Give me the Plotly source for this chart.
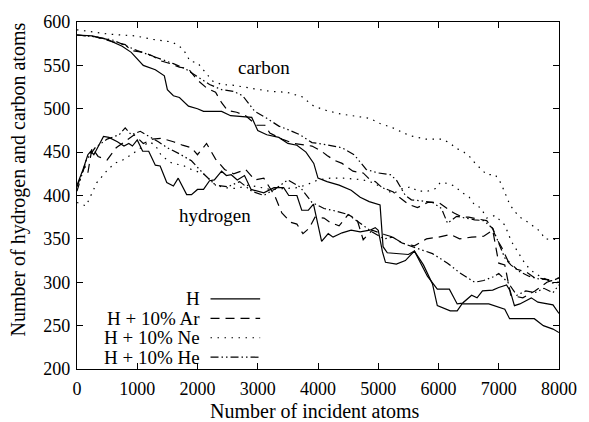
import plotly.graph_objects as go

# ---------------- data ----------------
x_ticks = [0, 1000, 2000, 3000, 4000, 5000, 6000, 7000, 8000]
y_ticks = [200, 250, 300, 350, 400, 450, 500, 550, 600]

legend_labels = ["H", "H + 10% Ar", "H + 10% Ne", "H + 10% He"]

# carbon, pure H (solid)
c_h_x = [0, 250, 500, 750, 900, 1000, 1100, 1300, 1450, 1500, 1600, 1700, 1850, 2000, 2100, 2400, 2550, 2900,
         3000, 3150, 3350, 3500, 3650, 3800, 3930, 4000, 4150, 4350, 4550, 4700, 4850, 5030, 5080, 5150, 5300,
         5500, 5600, 5750, 5900, 5980, 6195, 6310, 6390, 6835, 7100, 7180, 7590, 7740, 7900, 8000]
c_h_y = [585, 584, 580, 572, 565, 558, 550, 545, 538, 522, 515, 513, 503, 500, 497, 497, 492, 490,
         475, 470, 467, 460, 458, 450, 437, 420, 416, 412, 406, 398, 393, 389, 341, 334, 333,
         332, 336, 320, 298, 273, 267, 267, 275, 275, 269, 258, 258, 250, 246, 242]

# carbon, H + 10% Ar (dashed)
c_ar_x = [0, 300, 600, 800, 900, 1100, 1250, 1400, 1550, 1700, 1850, 2000, 2150, 2300, 2400, 2500, 2650, 2800,
          2980, 3120, 3200, 3400, 3600, 3760, 3900, 4060, 4150, 4290, 4400, 4580, 4750, 4850, 4950, 5050, 5250,
          5350, 5500, 5650, 5820, 6000, 6150, 6250, 6400, 6500, 6650, 6800, 6900, 6950, 7050, 7150, 7300, 7450,
          7600, 7750, 7900, 8000]
c_ar_y = [585, 583, 577, 574, 567, 565, 561, 555, 552, 548, 546, 533, 524, 519, 507, 498, 496, 492,
          481, 481, 472, 465, 460, 458, 457, 451, 446, 440, 437, 428, 426, 419, 416, 410, 404,
          398, 390, 386, 392, 392, 385, 380, 375, 375, 373, 371, 362, 352, 340, 325, 315, 312,
          305, 304, 302, 305]

# carbon, H + 10% Ne (dotted)
c_ne_x = [0, 530, 970, 1250, 1580, 1740, 1825, 1870, 2000, 2150, 2250, 2400, 2610, 2940, 3220, 3480, 3730, 3930,
          4140, 4370, 4630, 4860, 5030, 5240, 5520, 5790, 6060, 6200, 6280, 6420, 6530, 6610, 6700, 6800, 6940,
          7020, 7080, 7130, 7180, 7260, 7350, 7490, 7590, 7700, 7760, 7920, 8000]
c_ne_y = [591, 586, 584, 580, 577, 570, 562, 555, 553, 540, 532, 528, 527, 523, 520, 519, 514, 503,
          498, 494, 491, 489, 483, 478, 469, 465, 465, 460, 455, 450, 444, 437, 431, 424, 424,
          416, 407, 399, 390, 382, 375, 369, 364, 358, 350, 349, 349]

# carbon, H + 10% He (dash-dot)
c_he_x = [0, 300, 600, 800, 1000, 1200, 1400, 1600, 1800, 2000, 2200, 2400, 2600, 2750, 2950, 3150, 3350, 3500,
          3700, 3900, 4100, 4400, 4600, 4800, 5000, 5200, 5300, 5450, 5550, 5700, 5900, 6050, 6150, 6300, 6450,
          6600, 6750, 6900, 7000, 7100, 7200, 7350, 7500, 7650, 7800, 7900, 8000]
c_he_y = [585, 583, 579, 573, 567, 562, 557, 552, 546, 537, 528, 522, 520, 515, 497, 489, 480, 476,
          470, 461, 459, 455, 447, 430, 426, 424, 418, 400, 395, 394, 392, 385, 368, 376, 374,
          372, 371, 362, 345, 328, 320, 312, 307, 304, 303, 299, 300]

# hydrogen, pure H (solid)
h_h_x = [0, 100, 180, 230, 280, 440, 530, 670, 780, 860, 920, 1000, 1090, 1190, 1300, 1380, 1490, 1600, 1680,
         1820, 1900, 2000, 2100, 2200, 2280, 2400, 2480, 2560, 2660, 2780, 2890, 3100, 3270, 3430, 3515, 3650,
         3730, 3840, 3925, 4060, 4170, 4250, 4400, 4550, 4700, 4860, 4950, 5000, 5070, 5120, 5300, 5450, 5600,
         5816, 5980, 6180, 6310, 6400, 6550, 6640, 6730, 6900, 7000, 7130, 7190, 7260, 7350, 7540, 7650, 7900, 8000]
h_h_y = [412, 430, 447, 451, 447, 468, 467, 462, 457, 460, 457, 464, 451, 451, 435, 434, 415, 411, 420,
         401, 401, 407, 407, 417, 418, 428, 423, 424, 418, 423, 407, 403, 409, 409, 400, 400,
         383, 383, 390, 347, 356, 352, 357, 360, 358, 360, 363, 360, 335, 323, 321, 325, 336,
         307, 292, 292, 275, 276, 285, 282, 290, 291, 294, 297, 290, 273, 275, 282, 277, 274, 264]

# hydrogen, H + 10% Ar (dashed)
h_ar_x = [0, 130, 180, 250, 350, 500, 650, 800, 950, 1100, 1250, 1400, 1600, 1750, 1900, 2000, 2150, 2300, 2450,
          2600, 2800, 2950, 3100, 3280, 3400, 3550, 3650, 3750, 3850, 3950, 4100, 4200, 4350, 4500, 4650, 4750,
          4900, 5100, 5250, 5400, 5600, 5800, 6000, 6200, 6350, 6550, 6750, 6900, 6950, 7000, 7100, 7200, 7400,
          7600, 7800, 8000]
h_ar_y = [410, 434, 426, 455, 445, 441, 455, 462, 470, 460, 465, 466, 462, 458, 455, 447, 460, 442, 430,
          425, 430, 418, 420, 400, 380, 369, 367, 356, 362, 375, 374, 369, 365, 378, 372, 349,
          360, 355, 352, 345, 342, 350, 352, 355, 350, 352, 353, 360, 340, 322, 320, 285, 282,
          290, 300, 305]

# hydrogen, H + 10% Ne (dotted)
h_ne_x = [0, 150, 330, 490, 620, 760, 900, 1000, 1100, 1200, 1300, 1400, 1580, 1750, 1900, 2100, 2300, 2450,
          2650, 2850, 3000, 3200, 3450, 3650, 3800, 4000, 4200, 4420, 4600, 4750, 4900, 5100, 5240, 5400, 5550,
          5650, 5820, 5950, 6030, 6150, 6260, 6400, 6510, 6600, 6700, 6800, 6940, 7100, 7210, 7300, 7450, 7600,
          7800, 8000]
h_ne_y = [392, 388, 415, 428, 437, 441, 447, 452, 457, 462, 458, 446, 437, 435, 430, 425, 412, 409,
          408, 412, 410, 407, 408, 409, 412, 418, 420, 420, 419, 418, 415, 408, 402, 408, 410,
          405, 405, 408, 415, 414, 411, 403, 398, 389, 386, 374, 377, 366, 347, 337, 320, 310,
          303, 300]

# hydrogen, H + 10% He (dash-dot)
h_he_x = [0, 150, 300, 500, 700, 800, 900, 1050, 1200, 1350, 1500, 1700, 1900, 2100, 2300, 2500, 2700, 2900,
          3100, 3300, 3500, 3700, 3900, 4100, 4300, 4500, 4700, 4900, 5100, 5240, 5400, 5600, 5900, 6150, 6350,
          6600, 6750, 6900, 7000, 7150, 7300, 7450, 7600, 7750, 7900, 8000]
h_he_y = [405, 440, 455, 465, 470, 478, 470, 474, 468, 462, 455, 448, 440, 425, 412, 410, 416, 405,
          400, 408, 418, 410, 392, 385, 382, 378, 368, 358, 350, 352, 345, 340, 333, 322, 311,
          300, 302, 306, 310, 300, 285, 290, 288, 293, 288, 297]

# ---------------- styles ----------------
FONT = "Liberation Serif"
dash_styles = ["solid", "9px,6px", "1.5px,5.5px", "8px,3px,1.5px,3px,1.5px,3px"]
LW = 1.2

series = [
    (c_h_x, c_h_y, 0), (c_ar_x, c_ar_y, 1), (c_ne_x, c_ne_y, 2), (c_he_x, c_he_y, 3),
    (h_h_x, h_h_y, 0), (h_ar_x, h_ar_y, 1), (h_ne_x, h_ne_y, 2), (h_he_x, h_he_y, 3),
]

fig = go.Figure()
for xs, ys, k in series:
    fig.add_trace(go.Scatter(x=xs, y=ys, mode="lines", showlegend=False,
                             line=dict(color="black", width=LW, dash=dash_styles[k])))

# gnuplot-style key: text right-aligned, sample line to the right
key_rows = [0.202, 0.146, 0.090, 0.034]
for label, yr, k in zip(legend_labels, key_rows, range(4)):
    fig.add_annotation(xref="paper", yref="paper", x=0.259, y=yr, text=label, showarrow=False,
                       xanchor="right", yanchor="middle", font=dict(family=FONT, size=19, color="black"))
    fig.add_shape(type="line", xref="paper", yref="paper", x0=0.277, x1=0.380, y0=yr, y1=yr,
                  line=dict(color="black", width=LW, dash=dash_styles[k]))

fig.add_annotation(x=3105, y=548, text="carbon", showarrow=False,
                   font=dict(family=FONT, size=19, color="black"))
fig.add_annotation(x=2284, y=377, text="hydrogen", showarrow=False,
                   font=dict(family=FONT, size=19, color="black"))

# axis titles
fig.add_annotation(xref="paper", yref="paper", x=0.494, y=-0.122, text="Number of incident atoms",
                   showarrow=False, xanchor="center", yanchor="middle",
                   font=dict(family=FONT, size=20, color="black"))
fig.add_annotation(xref="paper", yref="paper", x=-0.121, y=0.545, text="Number of hydrogen and carbon atoms",
                   showarrow=False, xanchor="center", yanchor="middle", textangle=-90,
                   font=dict(family=FONT, size=20, color="black"))

axis_common = dict(showgrid=False, zeroline=False, showline=True, linecolor="black", linewidth=1.2,
                   mirror="allticks", ticks="inside", ticklen=6, tickwidth=1, tickcolor="black",
                   tickfont=dict(family=FONT, size=18, color="black"))

fig.update_xaxes(range=[0, 8000], tickvals=x_ticks, ticktext=[str(v) for v in x_ticks],
                 ticklabelstandoff=3, **axis_common)
fig.update_yaxes(range=[200, 600], tickvals=y_ticks, ticktext=[str(v) for v in y_ticks],
                 ticklabelstandoff=2, **axis_common)

fig.update_layout(width=589, height=422, margin=dict(l=77, r=25, t=17, b=53),
                  plot_bgcolor="white", paper_bgcolor="white", showlegend=False)

fig.write_html("out.html")
